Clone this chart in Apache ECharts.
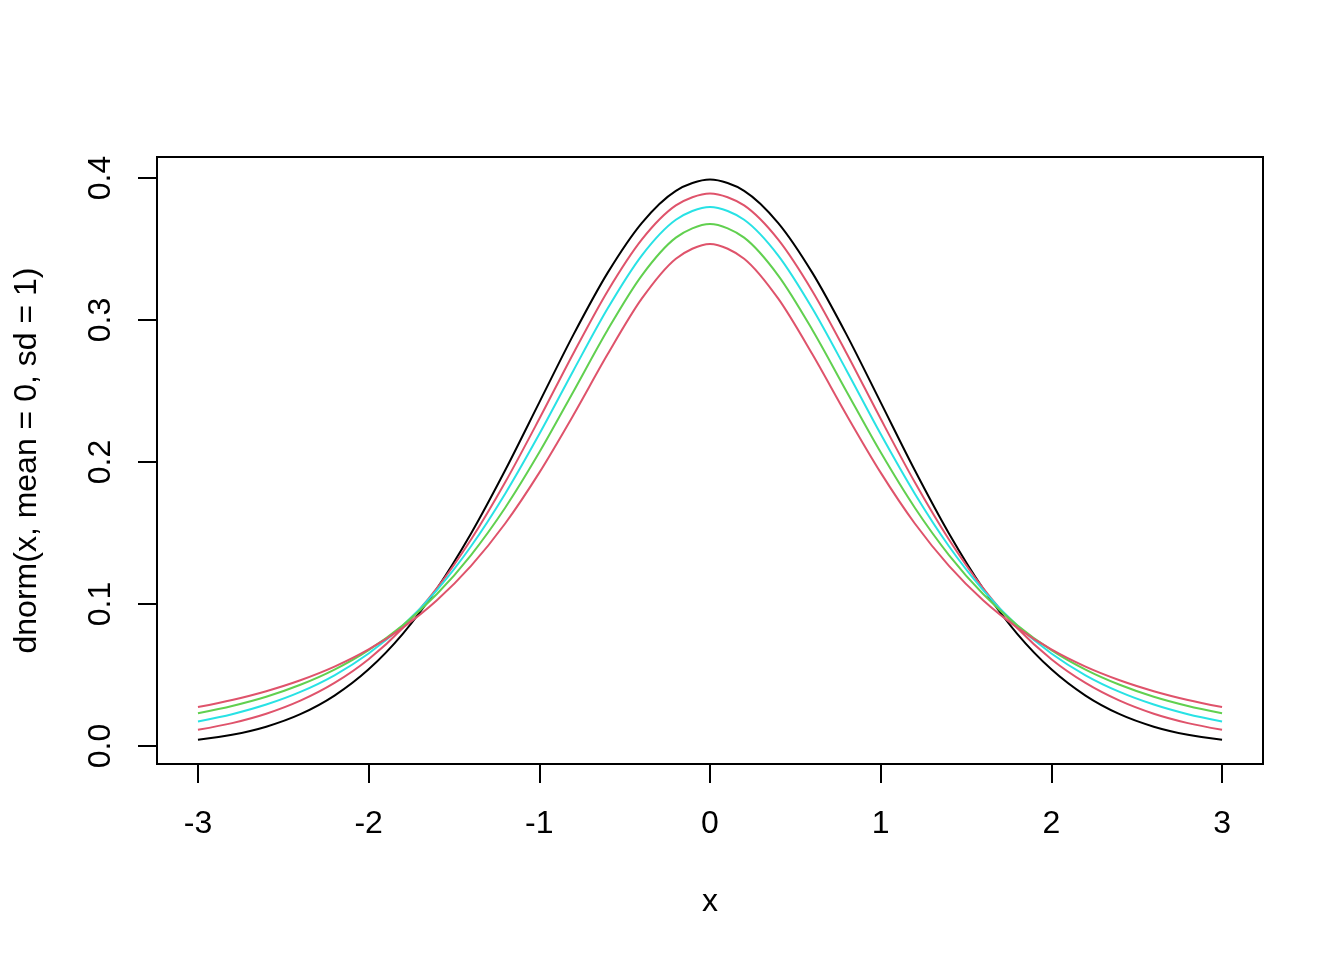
<!DOCTYPE html>
<html>
<head>
<meta charset="utf-8">
<script src="https://cdn.jsdelivr.net/npm/echarts@6/dist/echarts.min.js"></script>
<style>
html,body{margin:0;padding:0;background:#fff;}
#chart{width:1344px;height:960px;}
</style>
</head>
<body>
<div id="chart"></div>
<script>
// x positions (from -3 to 3)
const xValues = [-3.0,-2.8,-2.6,-2.4,-2.2,-2.0,-1.8,-1.6,-1.4,-1.2,-1.0,-0.8,-0.6,-0.4,-0.2,0.0,0.2,0.4,0.6,0.8,1.0,1.2,1.4,1.6,1.8,2.0,2.2,2.4,2.6,2.8,3.0];
// curve values
const normalCurve = [0.0044,0.0079,0.0136,0.0224,0.0355,0.0540,0.0790,0.1109,0.1497,0.1942,0.2420,0.2897,0.3332,0.3683,0.3910,0.3989,0.3910,0.3683,0.3332,0.2897,0.2420,0.1942,0.1497,0.1109,0.0790,0.0540,0.0355,0.0224,0.0136,0.0079,0.0044];
const curveA = [0.0114,0.0161,0.0227,0.0319,0.0444,0.0611,0.0831,0.1111,0.1454,0.1857,0.2304,0.2766,0.3203,0.3566,0.3807,0.3891,0.3807,0.3566,0.3203,0.2766,0.2304,0.1857,0.1454,0.1111,0.0831,0.0611,0.0444,0.0319,0.0227,0.0161,0.0114];
const curveB = [0.0173,0.0224,0.0292,0.0381,0.0498,0.0651,0.0848,0.1098,0.1407,0.1777,0.2197,0.2645,0.3081,0.3454,0.3706,0.3796,0.3706,0.3454,0.3081,0.2645,0.2197,0.1777,0.1407,0.1098,0.0848,0.0651,0.0498,0.0381,0.0292,0.0224,0.0173];
const curveC = [0.0230,0.0282,0.0347,0.0431,0.0538,0.0675,0.0850,0.1070,0.1345,0.1678,0.2068,0.2497,0.2930,0.3313,0.3580,0.3676,0.3580,0.3313,0.2930,0.2497,0.2068,0.1678,0.1345,0.1070,0.0850,0.0675,0.0538,0.0431,0.0347,0.0282,0.0230];
const curveD = [0.0274,0.0324,0.0386,0.0463,0.0559,0.0680,0.0834,0.1027,0.1269,0.1567,0.1925,0.2331,0.2758,0.3150,0.3432,0.3536,0.3432,0.3150,0.2758,0.2331,0.1925,0.1567,0.1269,0.1027,0.0834,0.0680,0.0559,0.0463,0.0386,0.0324,0.0274];
const xTicks = [-3,-2,-1,0,1,2,3];
const yTicks = [0,0.1,0.2,0.3,0.4];
const xTitle = 'x';
const yTitle = 'dnorm(x, mean = 0, sd = 1)';

const FONT = "'Liberation Sans', Arial, sans-serif";
const FS = 32;

function pairs(ys){ return xValues.map((x,i)=>[x, ys[i]]); }
function line(ys, color){
  return {type:'line', data:pairs(ys), showSymbol:false, smooth:0.3,
    lineStyle:{color:color, width:2}, itemStyle:{color:color}, animation:false, silent:true};
}

const chart = echarts.init(document.getElementById('chart'), null, {renderer:'canvas'});
chart.setOption({
  backgroundColor:'#ffffff',
  animation:false,
  grid:{left:157, top:157, width:1106, height:607, show:true, borderColor:'#000', borderWidth:2, backgroundColor:'transparent'},
  xAxis:{
    type:'value', min:-3.24, max:3.24,
    axisLine:{show:false, onZero:false},
    splitLine:{show:false},
    axisTick:{show:true, customValues:xTicks, length:19, lineStyle:{color:'#000', width:2}},
    axisLabel:{customValues:xTicks, margin:44, color:'#000', fontSize:FS, fontFamily:FONT,
      formatter:v=>String(v)},
    name:xTitle, nameLocation:'middle', nameGap:122,
    nameTextStyle:{color:'#000', fontSize:FS, fontFamily:FONT}
  },
  yAxis:{
    type:'value', min:-0.01268, max:0.41479,
    axisLine:{show:false, onZero:false},
    splitLine:{show:false},
    axisTick:{show:true, customValues:yTicks, length:19, lineStyle:{color:'#000', width:2}},
    axisLabel:{customValues:yTicks, rotate:90, margin:40, color:'#000', fontSize:FS, fontFamily:FONT,
      formatter:v=>v.toFixed(1)},
    name:yTitle, nameLocation:'middle', nameRotate:90, nameGap:114,
    nameTextStyle:{color:'#000', fontSize:FS, fontFamily:FONT}
  },
  series:[
    line(normalCurve,'#000000'),
    line(curveA,'#DF536B'),
    line(curveB,'#28E2E5'),
    line(curveC,'#61D04F'),
    line(curveD,'#DF536B')
  ]
});
</script>
</body>
</html>
